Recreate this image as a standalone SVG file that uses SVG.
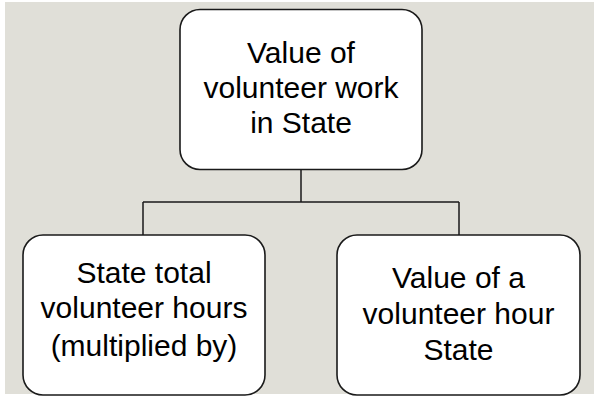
<svg xmlns="http://www.w3.org/2000/svg" width="594" height="396" viewBox="0 0 594 396">
<style>
.box{fill:#ffffff;stroke:#1a1a1a;stroke-width:1.6}
.lbl{font-family:"Liberation Sans",Arial,sans-serif;font-size:30px;fill:#000;text-anchor:middle}
.conn{fill:none;stroke:#1a1a1a;stroke-width:1.5}
</style>
<rect x="0" y="0" width="594" height="396" fill="#ffffff"/>
<rect x="5" y="2" width="589" height="392" fill="#e0dfd8"/>
<g id="connectors">
<path class="conn" d="M301 169 V202 M143 202 H459 M143 202 V235 M459 202 V235"/>
</g>
<g id="node-top">
<rect class="box" x="180" y="9.5" width="242" height="160" rx="20"/>
<text class="lbl" x="301" y="63">Value of</text>
<text class="lbl" x="301" y="98">volunteer work</text>
<text class="lbl" x="301" y="133">in State</text>
</g>
<g id="node-left">
<rect class="box" x="23" y="235" width="242" height="160" rx="20"/>
<text class="lbl" x="144" y="283">State total</text>
<text class="lbl" x="144" y="318">volunteer hours</text>
<text class="lbl" x="144" y="356">(multiplied by)</text>
</g>
<g id="node-right">
<rect class="box" x="337" y="235" width="243" height="160" rx="20"/>
<text class="lbl" x="458.5" y="288">Value of a</text>
<text class="lbl" x="458.5" y="324">volunteer hour</text>
<text class="lbl" x="458.5" y="360">State</text>
</g>
</svg>
